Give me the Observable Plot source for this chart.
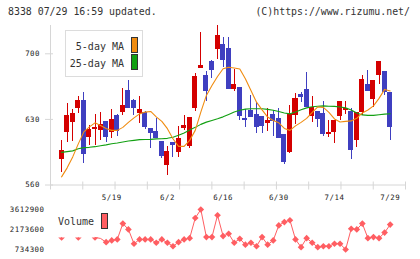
<!DOCTYPE html>
<html><head><meta charset="utf-8">
<script src="https://cdn.jsdelivr.net/npm/d3@7"></script>
<script src="https://cdn.jsdelivr.net/npm/@observablehq/plot@0.6"></script>
<style>
body{margin:0;background:#fff;}
#wrap{position:relative;width:420px;height:259px;overflow:hidden;font-family:"DejaVu Sans Mono",monospace;color:#333;}
#wrap svg{position:absolute;left:0;overflow:visible;}
.t{position:absolute;white-space:pre;font-size:10px;line-height:10px;}
.box{position:absolute;box-sizing:border-box;}
</style></head><body><div id="wrap">
<div class="t" style="left:8px;top:7px;font-size:9.9px;">8338 07/29 16:59 updated.</div>
<div class="t" style="right:10px;top:7px;font-size:9.9px;">(C)https://www.rizumu.net/</div>
</div>
<script>
const opens  = [581,587.8,616.3,627,642.3,650.1,610.9,619.5,618.8,626.9,616.3,634.1,637.6,660.8,650.1,637,636.5,620.2,617,605.6,581.7,605.2,594.9,620.5,602,641.9,684.6,676.8,691,704.9,709.9,704.6,662.6,663.7,630.9,639.4,635.2,633,626.6,635.2,630.1,613.8,594.9,634.5,655.6,661.7,634.1,638.4,636,614.2,616.3,633.3,640.1,637.7,608.4,638.4,667.2,651.5,677.9,680.4,657.9];
const highs  = [581,607.4,647.2,641,654.4,658.3,623.4,635,637,627,640.1,635,662.6,671.5,651,654,638,620.5,631.2,606,601,605.5,622.3,634.1,632,678.6,722.4,681.4,692.8,730,717.7,717.1,682.9,664,640.2,655.4,648.3,633.5,641.2,639.4,641.9,614,644.8,657.9,659,680,654.4,638.5,649,628.7,629,648.5,649,641.9,637.2,676.8,682.2,671.5,691.2,681.4,658];
const lows   = [581,573.5,605.6,606,636.5,582.5,602,602,608,605.6,609.3,611.5,634,641.2,634.1,625.5,619,598.5,609.5,587.8,570,589.5,588.9,618.1,599,638.7,684.6,649,673.9,693.6,685.7,662.6,660,628.7,621.6,632.3,614.5,614.5,617.3,611.6,609.8,581.7,593.8,624.5,648.3,643.7,626.5,621.6,612,610.9,604.5,628.7,634.8,587,600.2,634.1,659.7,642.6,667.2,655.4,607.4];
const closes = [581,596.7,634.1,635.9,650.1,593.1,618.8,620.5,624.1,610.9,629.5,618.1,644.8,642.3,642.3,640.3,621.6,615.9,609.8,591.3,595.6,602.8,609.2,623.4,631.6,675.7,687.5,660,682.2,718.5,693.6,662.6,667.2,634.1,629.1,632.3,622.3,623.4,628,628.7,609.8,584.2,635,652.3,653.5,643.7,642.6,630.2,614,615.2,628.7,648.3,641.2,597.8,637,672.5,660.8,670.6,691,659.7,621.6];
const ma5    = [null,568.7,578.3,590.0,603.9,616.7,622.0,626.3,623.6,620.4,618.3,618.3,621.5,626.8,631.6,635.9,637.8,638.5,632.7,627.9,620.1,609.4,601.2,601.2,607.6,618.3,637.8,655.6,666.2,675.8,684.0,685.7,684.9,683.8,673.4,660.9,648.4,640.1,632.5,628.9,626.3,620.4,618.3,623.1,626.8,631.1,637.5,643.3,642.8,637.5,630.5,627.3,627.9,628.4,631.1,636.9,640.1,644.4,652.4,662.0,660.4];
const ma25   = [null,594.8,595.6,596.4,598.6,599.9,600.2,600.9,601.8,602.8,604.1,604.8,605.8,606.9,607.6,608.4,608.5,608.7,609.2,609.4,609.8,611.0,613.0,615.6,618.8,621.5,624.7,627.1,628.9,630.7,632.7,635.3,638.0,639.8,641.0,641.4,641.4,641.4,640.7,639.8,638.5,636.9,635.9,638.0,640.3,642.3,643.5,644.1,644.4,644.1,643.9,643.3,642.3,640.1,636.9,634.8,634.3,634.3,635.0,635.6,636.1];
const volumes = [null,1600000,null,null,1600000,null,null,1600000,1530000,1260000,1390000,1460000,2600000,2180000,1150000,1460000,1460000,1460000,1220000,1460000,1220000,970000,1260000,1460000,1550000,3000000,3612900,1630000,1630000,3200000,1700000,1870000,1220000,1510000,1080000,1220000,970000,1630000,1080000,1390000,2470000,2710000,2840000,1460000,900000,1550000,1220000,900000,970000,970000,1150000,1150000,734300,2230000,2180000,2600000,1550000,1630000,1550000,1950000,2530000];
const halfMarkerDays = [1,4,7];
const firstDiamondDay = 9;
const xLabels = ["5/19","6/2","6/16","6/30","7/14","7/29"];
const xLabelDays = [10,20,30,40,50,60];
const priceTicks = [560,630,700];
const volumeTicks = [734300,2173600,3612900];

const RED="#d40000", BLUE="#3f3fc0", ORANGE="#f08c10", GREEN="#12a012", VOL="#ff5e62", AXIS="#d6d6d6";
const candles = opens.map((o,i)=>({i,o,h:highs[i],l:lows[i],c:closes[i]}));
const up = candles.filter(d=>d.c>=d.o), down = candles.filter(d=>d.c<d.o);
const ma5Data = ma5.map((v,i)=>({i,v}));
const ma25Data = ma25.map((v,i)=>({i,v}));
const volData = volumes.map((v,i)=>({i,v}));
const xDomain=[-0.99,62.75];
const gridTicks=d3.range(12).map(k=>xDomain[0]+k*(xDomain[1]-xDomain[0])/11);
const halfDiamond={draw(ctx,size){const r=Math.sqrt(size)*0.62625;ctx.moveTo(-r,0);ctx.lineTo(r,0);ctx.lineTo(0,r);ctx.closePath();}};
const common={width:420,marginLeft:50,marginRight:15,x:{domain:xDomain,axis:null},
  style:{fontFamily:"DejaVu Sans Mono, monospace",fontSize:"7.4px",color:"#222",background:"transparent",overflow:"visible",letterSpacing:"0.5px"}};

function candleMarks(data,col){
  return [
    Plot.ruleX(data,{x:"i",y1:"l",y2:"h",stroke:col,strokeWidth:1,shapeRendering:"crispEdges"}),
    Plot.rect(data,{x1:d=>d.i-0.36,x2:d=>d.i+0.36,y1:"o",y2:"c",fill:col,stroke:col,strokeWidth:1,shapeRendering:"crispEdges"})
  ];
}

const price = Plot.plot({...common,height:200,marginTop:25,marginBottom:15.5,
  y:{domain:[560,730.2],axis:null},
  marks:[
    Plot.ruleY([priceTicks[0]],{stroke:AXIS}),
    Plot.ruleX([xDomain[0]],{stroke:AXIS}),
    Plot.axisY({ticks:priceTicks,tickSize:8,dx:3,stroke:AXIS,tickFormat:()=>"",label:null}),
    Plot.axisY({ticks:priceTicks,tickSize:0,tickPadding:10.5,fill:"#222",label:null}),
    Plot.axisX({ticks:gridTicks,tickSize:8,dy:-3,stroke:AXIS,tickFormat:()=>"",label:null}),
    Plot.axisX({ticks:xLabelDays,tickSize:0,tickPadding:10,fill:"#222",label:null,tickFormat:d=>xLabels[xLabelDays.indexOf(d)]}),
    ...candleMarks(up,RED),
    ...candleMarks(down,BLUE),
    Plot.line(ma25Data,{x:"i",y:"v",stroke:GREEN,strokeWidth:1.1}),
    Plot.line(ma5Data,{x:"i",y:"v",stroke:ORANGE,strokeWidth:1.1})
  ]});
price.style.top="0px";

const vol = Plot.plot({...common,height:59,marginTop:9,marginBottom:10,
  y:{domain:[volumeTicks[0],volumeTicks[2]],axis:null},
  marks:[
    Plot.axisY({ticks:volumeTicks,tickSize:0,tickPadding:6,fill:"#222",label:null,tickFormat:d3.format("d")}),
    Plot.line(volData,{x:"i",y:"v",stroke:VOL,strokeWidth:1}),
    Plot.dot(volData.filter(d=>d.i>=firstDiamondDay&&d.v!=null),{x:"i",y:"v",symbol:"diamond2",r:3,fill:VOL}),
    Plot.dot(volData.filter(d=>halfMarkerDays.includes(d.i)),{x:"i",y:"v",symbol:halfDiamond,r:3,fill:VOL})
  ]});
vol.style.top="200px";

const wrap=document.getElementById("wrap");
wrap.appendChild(price);
wrap.appendChild(vol);
wrap.insertAdjacentHTML("beforeend",`
<div class="box" style="left:65px;top:30px;width:78px;height:47px;border:1px solid #dcdcdc;background:#fff;"></div>
<div class="t" style="right:${420-124}px;top:41.5px;">5-day MA</div>
<div class="t" style="right:${420-124}px;top:58.8px;">25-day MA</div>
<div class="box" style="left:131px;top:37px;width:7px;height:16px;border:1px solid #333;background:${ORANGE};"></div>
<div class="box" style="left:131px;top:54px;width:7px;height:16px;border:1px solid #333;background:${GREEN};"></div>
<div class="t" style="left:58px;top:217.3px;">Volume</div>
<div class="box" style="left:101px;top:213px;width:7px;height:16px;border:1px solid #333;background:${VOL};"></div>
`);
</script></body></html>
